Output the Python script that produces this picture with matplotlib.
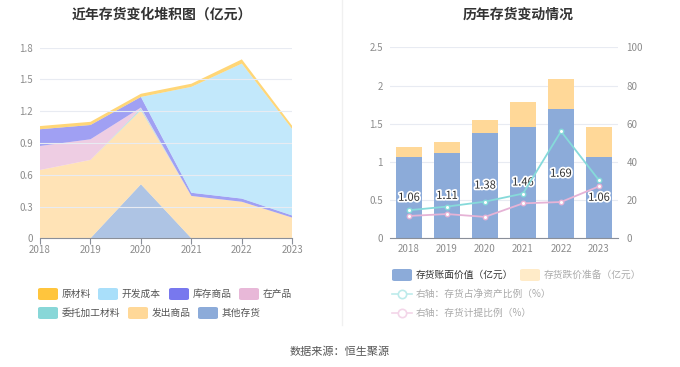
import matplotlib
matplotlib.use('Agg')
import matplotlib.pyplot as plt
import matplotlib.patheffects as pe
from matplotlib.patches import FancyBboxPatch
from matplotlib.lines import Line2D

plt.rcParams['font.family'] = ['Noto Sans CJK SC', 'DejaVu Sans']

years = ['2018', '2019', '2020', '2021', '2022', '2023']

# 左图：堆积面积（亿元），自下而上
other_goods = [0, 0, 0.51, 0, 0, 0]            # 其他存货
shipped_goods = [0.645, 0.74, 0.70, 0.40, 0.345, 0.195]  # 发出商品
outsourced = [0, 0, 0.015, 0, 0, 0]            # 委托加工材料
wip = [0.227, 0.195, 0.01, 0, 0, 0]            # 在产品
stock_goods = [0.158, 0.135, 0.10, 0.03, 0.03, 0.02]   # 库存商品
dev_cost = [0, 0, 0, 1.0, 1.275, 0.815]        # 开发成本
raw_material = [0.03, 0.03, 0.03, 0.03, 0.04, 0.03]    # 原材料

# 右图
book_value = [1.06, 1.11, 1.38, 1.46, 1.69, 1.06]
impairment = [0.135, 0.155, 0.17, 0.33, 0.395, 0.40]
net_asset_ratio = [14.7, 16.6, 19.2, 23.4, 56.0, 30.4]
provision_ratio = [11.7, 12.7, 11.2, 18.3, 19.0, 27.2]

C_RAW = '#FFC53D'
C_DEV = '#A9DFFA'
C_STOCK = '#7878EE'
C_WIP = '#E8B8D8'
C_OUT = '#88D7D8'
C_SHIP = '#FFD898'
C_OTHER = '#8CABD9'
C_TEAL = '#86DADA'
C_PINK = '#E6B3D6'
GRID = '#E8EBF2'
TICK = '#8C8C8C'

W, H = 680, 367
fig = plt.figure(figsize=(6.8, 3.67), dpi=100)


def fx(px):
    return px / W


def fy(py):
    return 1 - py / H


x = list(range(len(years)))

# ---------- 左图 ----------
ax1 = fig.add_axes([fx(40), fy(238.3), fx(252.3), (238.3 - 47.7) / H])
ax1.stackplot(x, other_goods, shipped_goods, outsourced, wip, stock_goods, dev_cost, raw_material,
              colors=[C_OTHER, C_SHIP, C_OUT, C_WIP, C_STOCK, C_DEV, C_RAW], alpha=0.7, linewidth=0)
ax1.set_xlim(0, 5)
ax1.set_ylim(0, 1.8)
ax1.set_yticks([0, 0.3, 0.6, 0.9, 1.2, 1.5, 1.8])
ax1.set_yticklabels(['0', '0.3', '0.6', '0.9', '1.2', '1.5', '1.8'])
ax1.set_xticks(x)
ax1.set_xticklabels(years)
ax1.grid(axis='y', color=GRID, linewidth=0.8)
ax1.set_axisbelow(False)
for s in ['top', 'right', 'left']:
    ax1.spines[s].set_visible(False)
ax1.spines['bottom'].set_color('#8A8F99')
ax1.tick_params(axis='y', length=0, colors=TICK, labelsize=7, pad=5)
ax1.tick_params(axis='x', length=4, color='#8A8F99', colors=TICK, labelsize=7, pad=1)

# ---------- 右图 ----------
ax2 = fig.add_axes([fx(390), fy(238.3), fx(228), (238.3 - 47.3) / H])
ax2.bar(x, book_value, width=0.68, color=C_OTHER, zorder=2)
ax2.bar(x, impairment, width=0.68, bottom=book_value, color=C_SHIP, zorder=2)
for i, v in enumerate(book_value):
    ax2.text(i, v / 2, f'{v:.2f}', ha='center', va='center', fontsize=8, color='#333333', zorder=5,
             path_effects=[pe.withStroke(linewidth=2.5, foreground='white')])
ax2.set_xlim(-0.5, 5.5)
ax2.set_ylim(0, 2.5)
ax2.set_yticks([0, 0.5, 1, 1.5, 2, 2.5])
ax2.set_yticklabels(['0', '0.5', '1', '1.5', '2', '2.5'])
ax2.set_xticks(x)
ax2.set_xticklabels(years)
ax2.grid(axis='y', color=GRID, linewidth=0.8, zorder=0)
ax2.set_axisbelow(True)
for s in ['top', 'right', 'left']:
    ax2.spines[s].set_visible(False)
ax2.spines['bottom'].set_color('#8A8F99')
ax2.tick_params(axis='y', length=0, colors=TICK, labelsize=7, pad=5)
ax2.tick_params(axis='x', length=0, colors=TICK, labelsize=7, pad=4)

ax3 = ax2.twinx()
ax3.plot(x, net_asset_ratio, color=C_TEAL, linewidth=1.3, marker='o', markersize=3.2,
         markerfacecolor='white', markeredgecolor=C_TEAL, markeredgewidth=1, zorder=4)
ax3.plot(x, provision_ratio, color=C_PINK, linewidth=1.3, marker='o', markersize=3.2,
         markerfacecolor='white', markeredgecolor=C_PINK, markeredgewidth=1, zorder=4)
ax3.set_ylim(0, 100)
ax3.set_yticks([0, 20, 40, 60, 80, 100])
for s in ['top', 'right', 'left', 'bottom']:
    ax3.spines[s].set_visible(False)
ax3.tick_params(axis='y', length=0, colors=TICK, labelsize=7, pad=6)

# ---------- 标题 / 分隔线 / 来源 ----------
fig.text(fx(162), fy(15), '近年存货变化堆积图（亿元）', ha='center', va='center',
         fontsize=10, fontweight='bold', color='#333333')
fig.text(fx(518), fy(15), '历年存货变动情况', ha='center', va='center',
         fontsize=10, fontweight='bold', color='#333333')
fig.add_artist(Line2D([fx(342), fx(342)], [fy(0), fy(325)], color='#F0F0F0', linewidth=1))
fig.text(fx(340), fy(352), '数据来源：恒生聚源', ha='center', va='center', fontsize=8, color='#555555')


# ---------- 图例 ----------
def patch_item(px, py, color, label, tcolor='#555555'):
    fig.add_artist(FancyBboxPatch((fx(px), fy(py + 6)), fx(20), 12 / H,
                                  boxstyle='round,pad=0,rounding_size=0.004',
                                  facecolor=color, edgecolor='none', transform=fig.transFigure))
    fig.text(fx(px + 24), fy(py), label, ha='left', va='center', fontsize=7, color=tcolor)


def line_item(px, py, color, label, tcolor='#AAAAAA'):
    fig.add_artist(Line2D([fx(px), fx(px + 20)], [fy(py), fy(py)], color=color, linewidth=1.2,
                          marker='o', markevery=[1], markersize=0))
    fig.add_artist(Line2D([fx(px + 10)], [fy(py)], color=color, marker='o', markersize=6,
                          markerfacecolor='white', markeredgecolor=color, markeredgewidth=1.2))
    fig.text(fx(px + 24), fy(py), label, ha='left', va='center', fontsize=7, color=tcolor)


patch_item(38, 294, C_RAW, '原材料')
patch_item(98, 294, C_DEV, '开发成本')
patch_item(169, 294, C_STOCK, '库存商品')
patch_item(239, 294, C_WIP, '在产品')
patch_item(38, 313, C_OUT, '委托加工材料')
patch_item(128, 313, C_SHIP, '发出商品')
patch_item(198, 313, C_OTHER, '其他存货')

patch_item(392, 275, C_OTHER, '存货账面价值（亿元）', tcolor='#333333')
patch_item(520, 275, '#FFEBC8', '存货跌价准备（亿元）', tcolor='#AAAAAA')
line_item(392, 294, '#BDEBEB', '右轴：存货占净资产比例（%）')
line_item(392, 313, '#F3D6E9', '右轴：存货计提比例（%）')

fig.savefig('out.png', dpi=100)
